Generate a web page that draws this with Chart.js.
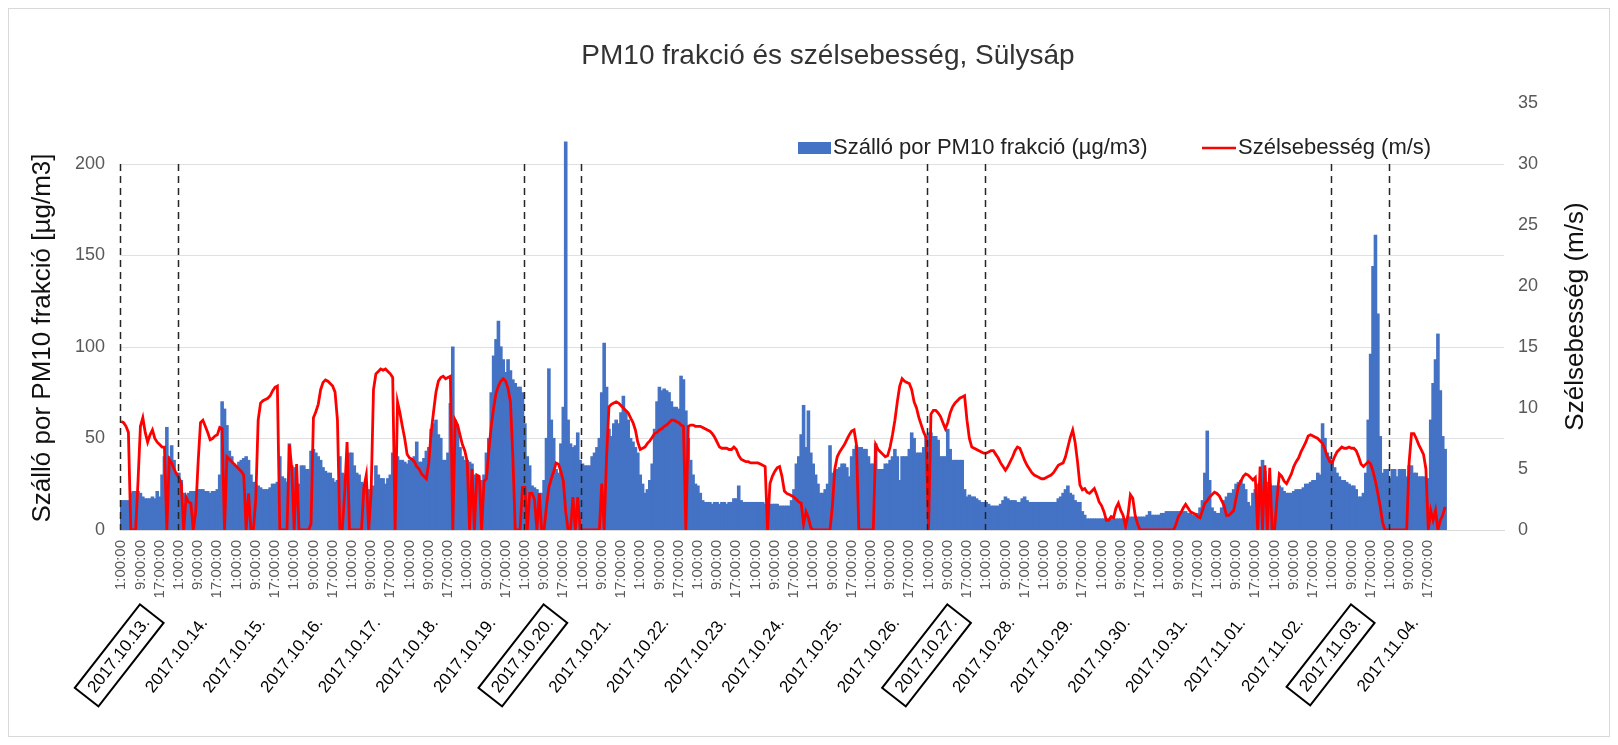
<!DOCTYPE html>
<html>
<head>
<meta charset="utf-8">
<script src="https://cdn.jsdelivr.net/npm/chart.js@4.4.1/dist/chart.umd.min.js"></script>
<style>
  html, body { margin: 0; padding: 0; background: #fff; }
  #wrap { width: 1618px; height: 745px; }
</style>
</head>
<body>
<div id="wrap"><canvas id="pmChart"></canvas></div>
<script>
// days shown on the second row of the category axis
var days = [
    '2017.10.13.', '2017.10.14.', '2017.10.15.', '2017.10.16.', '2017.10.17.', '2017.10.18.',
    '2017.10.19.', '2017.10.20.', '2017.10.21.', '2017.10.22.', '2017.10.23.', '2017.10.24.',
    '2017.10.25.', '2017.10.26.', '2017.10.27.', '2017.10.28.', '2017.10.29.', '2017.10.30.',
    '2017.10.31.', '2017.11.01.', '2017.11.02.', '2017.11.03.', '2017.11.04.'
];
var hours = [
    '1:00:00', '2:00:00', '3:00:00', '4:00:00', '5:00:00', '6:00:00', '7:00:00', '8:00:00',
    '9:00:00', '10:00:00', '11:00:00', '12:00:00', '13:00:00', '14:00:00', '15:00:00', '16:00:00',
    '17:00:00', '18:00:00', '19:00:00', '20:00:00', '21:00:00', '22:00:00', '23:00:00', '0:00:00'
];
var boxedDays = ['2017.10.13.', '2017.10.20.', '2017.10.27.', '2017.11.03.'];
var dividerDays = ['2017.10.13.', '2017.10.14.', '2017.10.20.', '2017.10.21.',
                   '2017.10.27.', '2017.10.28.', '2017.11.03.', '2017.11.04.'];
var emptySlots = 24; // the axis runs on for one more day without data

// hourly PM10 (µg/m3)
var pm10 = [
    16,16,16,16,20,21,21,21, 20,18,17,17,17,18,17,21, 18,30,40,56,40,46,38,31,   // 10.13
    31,27,20,18,20,21,21,21, 22,22,22,21,21,20,21,21, 22,30,70,66,57,43,40,36,   // 10.14
    35,37,38,39,40,38,30,26, 25,24,23,22,22,22,23,25, 25,26,40,29,28,26,47,35,   // 10.15
    34,25,25,35,35,33,33,43, 44,42,40,38,34,32,31,31, 28,26,27,40,31,30,31,42,   // 10.16
    42,35,31,30,26,25,24,22, 22,24,35,30,28,28,25,28, 30,42,44,40,38,38,37,36,   // 10.17
    38,38,40,48,37,37,39,43, 45,55,58,60,52,50,38,38, 42,69,100,60,55,45,40,38,  // 10.18
    38,37,36,30,28,27,27,30, 42,50,75,95,104,114,100,93, 86,93,87,82,80,78,78,75, // 10.19
    58,40,35,24,23,22,20,20, 27,50,88,60,50,33,31,47, 67,212,60,47,45,46,53,38,  // 10.20
    36,35,35,35,40,42,45,50, 75,102,78,55,51,58,60,58, 64,73,65,60,50,48,45,42,  // 10.21
    30,25,20,22,27,36,55,70, 78,76,77,76,75,70,67,67, 66,84,82,65,50,38,30,25,   // 10.22
    24,20,16,15,15,15,14,15, 15,14,15,15,14,15,15,17, 17,24,16,15,15,15,15,15,   // 10.23
    15,15,15,15,14,14,14,14, 14,14,13,13,13,13,13,16, 22,36,40,52,68,45,65,42,   // 10.24
    36,30,25,20,20,22,25,46, 31,32,33,34,36,36,34,29, 40,44,46,45,45,44,44,40,   // 10.25
    36,36,47,33,33,33,36,36, 38,40,44,40,27,40,40,40, 44,53,50,42,42,42,45,51,   // 10.26
    53,53,51,51,49,40,40,40, 55,44,38,38,38,38,38,22, 18,19,18,18,17,16,15,15,   // 10.27
    15,14,13,13,13,13,14,16, 18,17,16,16,16,15,15,17, 18,16,15,15,15,15,15,15,   // 10.28
    15,15,15,15,15,15,17,18, 20,22,24,20,19,16,15,15, 10,8,6,6,6,6,6,6,          // 10.29
    6,6,6,6,6,6,6,6, 6,6,6,7,7,7,7,7, 7,7,7,8,10,8,8,8,                          // 10.30
    8,9,9,10,10,10,10,10, 10,10,10,10,9,9,8,8, 9,12,16,31,54,27,12,10,           // 10.31
    9,9,12,16,18,20,20,22, 25,26,27,25,22,15,13,20, 22,25,26,38,32,26,25,24,     // 11.01
    24,24,24,23,21,20,20,20, 21,22,22,22,23,25,25,26, 27,27,31,30,58,50,42,40,   // 11.02
    38,34,31,29,27,27,26,25, 24,24,22,18,18,20,31,60, 96,144,161,118,51,31,33,33, // 11.03
    28,33,33,29,33,33,33,29, 35,35,31,31,29,29,29,28, 28,60,80,93,107,76,51,44   // 11.04
];

// hourly wind speed (m/s)
var wind = [
    8.9,8.8,8.5,8.0,0,0,0,4, 8.5,9.2,8.0,7.2,7.8,8.2,7.5,7.2, 7.0,6.8,6.8,0,5.8,5.5,5.0,4.6,
    4.3,3.8,0,2.7,2.3,2.2,0,1.5, 5.5,8.8,9.0,8.5,8.0,7.4,7.5,7.7, 7.8,8.4,8.3,0,6.0,5.8,5.6,5.4,
    5.2,5.0,4.8,4.5,0,3.0,0,0, 2.5,9.0,10.4,10.6,10.7,10.8,11.0,11.4, 11.7,11.8,0,0,0,0,7.0,5.0,
    0,5.4,0,0,0,0,0,0.5, 9.2,9.7,10.3,11.5,12.1,12.3,12.2,12.0, 11.8,11.3,9.0,0,0,3.0,7.2,0,
    0,0,0,0,0,3.5,4.5,0, 3.0,11.5,12.8,13.0,13.2,13.1,13.2,13.0, 12.8,12.5,0,10.5,9.6,8.5,7.5,6.2,
    5.9,5.8,5.6,5.2,5.0,4.6,4.4,4.2, 5.5,8.0,9.7,11.3,12.2,12.5,12.6,12.4, 12.5,12.6,0,9.0,8.6,7.8,7.0,6.5,
    5.6,0,5.0,0,4.5,4.4,0,4.0, 4.2,6.5,8.5,10.0,11.2,11.8,12.2,12.4, 12.2,11.6,10.5,6.0,0,0,0,3.5,
    3.5,0,3.0,3.0,2.5,0,3.0,0, 0,2.0,3.5,4.2,4.8,5.5,5.4,4.8, 4.0,1.5,0,0,2.7,0,2.7,0,
    0,0,0,0,0,0,0,0, 3.8,0,6.0,10.1,10.3,10.4,10.5,10.4, 10.2,10.0,9.8,9.6,9.2,8.8,8.2,7.2,
    6.6,6.7,6.8,7.1,7.3,7.6,7.9,8.0, 8.2,8.3,8.5,8.6,8.8,9.0,9.0,8.9, 8.8,8.6,8.5,0,8.5,8.6,8.6,8.5,
    8.5,8.5,8.4,8.3,8.2,8.1,7.9,7.6, 7.2,6.8,6.7,6.7,6.7,6.6,6.6,6.8, 6.6,6.1,5.8,5.7,5.6,5.6,5.5,5.5,
    5.5,5.5,5.4,5.3,5.2,0,3.8,4.4, 4.8,5.1,5.2,4.4,3.2,3.0,2.9,2.8, 2.7,2.5,2.3,2.2,0.5,1.5,1.0,0.2,
    0,0,0,0,0,0,0,0, 2.0,5.0,6.0,6.4,6.7,7.0,7.4,7.8, 8.1,8.2,7.0,0,0,0,0,0,
    0,0,7.0,6.6,6.4,6.2,6.0,6.1, 6.8,7.8,9.0,10.5,11.8,12.4,12.2,12.1, 12.0,11.5,10.5,10.0,9.2,8.6,8.0,7.6,
    0,9.5,9.8,9.8,9.6,9.3,8.8,8.3, 8.8,9.6,10.1,10.4,10.6,10.8,10.9,11.0, 9.0,7.5,6.8,6.7,6.6,6.5,6.4,6.3,
    6.3,6.4,6.5,6.5,6.2,5.9,5.5,5.2, 4.9,5.2,5.6,6.0,6.5,6.8,6.7,6.2, 5.7,5.3,5.0,4.7,4.5,4.4,4.3,4.2,
    4.2,4.3,4.4,4.5,4.7,5.0,5.3,5.4, 5.5,6.0,6.8,7.6,8.2,7.2,5.6,3.7, 3.3,3.4,3.1,3.0,3.2,3.4,2.9,2.3,
    2.0,1.5,0.8,0.8,1.1,1.0,1.8,2.2, 1.6,1.2,0.3,1.2,2.9,2.6,1.2,0.5, 0,0,0,0,0,0,0,0,
    0,0,0,0,0,0,0,0.5, 1.1,1.4,1.8,2.1,1.8,1.5,1.4,1.3, 1.1,1.0,1.6,2.2,2.4,2.7,2.9,3.1,
    3.0,2.8,2.4,2.0,1.2,1.2,1.4,1.6, 2.6,3.6,4.0,4.4,4.6,4.5,4.3,4.1, 4.3,0,5.2,0,5.3,0,5.1,0,
    0,2.5,4.6,4.4,4.0,3.8,4.2,4.6, 5.2,5.6,5.9,6.4,6.8,7.2,7.7,7.8, 7.7,7.6,7.5,7.3,7.1,6.6,6.0,5.6,
    5.5,6.0,6.4,6.6,6.8,6.7,6.7,6.8, 6.7,6.7,6.5,6.0,5.4,5.2,5.4,5.6, 5.4,4.8,4.0,3.0,1.9,0.6,0,0,
    0,0,0,0,0,0,0,0, 5.5,7.9,7.9,7.5,7.0,6.6,6.2,5.0, 0,1.6,0.8,1.6,0,0.8,1.2,1.9
];

var labels = [];
days.forEach(function() { hours.forEach(function(h) { labels.push(h); }); });
for (var k = 0; k < emptySlots; k++) labels.push('');

var FONT = "'Liberation Sans', Arial, sans-serif";
var RIGHT_MAX = 35;
var LEFT_MAX = 200 * RIGHT_MAX / 30; // left 200 lines up with right 30

var decor = {
    id: 'decor',
    beforeDraw: function(chart) {
        var ctx = chart.ctx;
        ctx.save();
        ctx.fillStyle = '#ffffff';
        ctx.fillRect(0, 0, chart.width, chart.height);
        ctx.strokeStyle = '#d9d9d9';
        ctx.lineWidth = 1;
        ctx.strokeRect(8.5, 8.5, chart.width - 17, chart.height - 17);
        ctx.restore();
    },
    afterDatasetsDraw: function(chart) {
        var ctx = chart.ctx, x = chart.scales.x, y = chart.scales.y;
        ctx.save();
        ctx.strokeStyle = '#262626';
        ctx.lineWidth = 1.5;
        ctx.setLineDash([7, 5]);
        dividerDays.forEach(function(d) {
            var px = Math.round(x.getPixelForValue(days.indexOf(d) * 24 - 0.5)) + 0.5;
            ctx.beginPath();
            ctx.moveTo(px, y.getPixelForValue(200));
            ctx.lineTo(px, chart.chartArea.bottom);
            ctx.stroke();
        });
        ctx.restore();
    },
    afterDraw: function(chart) {
        var ctx = chart.ctx, x = chart.scales.x, area = chart.chartArea;
        ctx.save();

        // title
        ctx.fillStyle = '#333333';
        ctx.font = '28px ' + FONT;
        ctx.textAlign = 'center';
        ctx.textBaseline = 'alphabetic';
        ctx.fillText('PM10 frakció és szélsebesség, Sülysáp', 828, 64);

        // axis titles
        ctx.fillStyle = '#111111';
        ctx.font = '26px ' + FONT;
        ctx.textBaseline = 'middle';
        ctx.save();
        ctx.translate(43, 338);
        ctx.rotate(-Math.PI / 2);
        ctx.fillText('Szálló por PM10 frakció [µg/m3]', 0, 0);
        ctx.restore();
        ctx.save();
        ctx.translate(1576, (area.top + area.bottom) / 2);
        ctx.rotate(-Math.PI / 2);
        ctx.fillText('Szélsebesség (m/s)', 0, 0);
        ctx.restore();

        // legend
        ctx.font = '22px ' + FONT;
        ctx.textAlign = 'left';
        ctx.fillStyle = '#4472C4';
        ctx.fillRect(798, 142, 33, 12);
        ctx.fillStyle = '#222222';
        ctx.fillText('Szálló por PM10 frakció (µg/m3)', 833, 148);
        ctx.strokeStyle = '#FF0000';
        ctx.lineWidth = 2.5;
        ctx.beginPath();
        ctx.moveTo(1202, 148);
        ctx.lineTo(1236, 148);
        ctx.stroke();
        ctx.fillText('Szélsebesség (m/s)', 1238, 148);

        // date row under the hour labels
        ctx.font = '17px ' + FONT;
        ctx.textAlign = 'right';
        ctx.fillStyle = '#000000';
        ctx.strokeStyle = '#000000';
        ctx.lineWidth = 2;
        var ang = -52 * Math.PI / 180;
        days.forEach(function(d, i) {
            var cx = x.getPixelForValue(i * 24 + 11.5);
            ctx.save();
            ctx.translate(cx - 2, area.bottom + 90);
            ctx.rotate(ang);
            ctx.fillText(d, 0, 0);
            if (boxedDays.indexOf(d) >= 0) {
                var w = ctx.measureText(d).width;
                ctx.strokeRect(-w - 8, -15, w + 16, 30);
            }
            ctx.restore();
        });
        ctx.restore();
    }
};

var config = {
    type: 'bar',
    data: {
        labels: labels,
        datasets: [{
            type: 'line',
            label: 'Szélsebesség (m/s)',
            data: wind,
            yAxisID: 'y1',
            borderColor: '#FF0000',
            borderWidth: 2.8,
            pointRadius: 0,
            tension: 0,
            order: 0
        }, {
            type: 'bar',
            label: 'Szálló por PM10 frakció (µg/m3)',
            data: pm10,
            yAxisID: 'y',
            backgroundColor: '#4472C4',
            borderWidth: 0,
            inflateAmount: 0.6,
            barPercentage: 1.0,
            categoryPercentage: 1.0,
            order: 1
        }]
    },
    options: {
        responsive: true,
        maintainAspectRatio: false,
        animation: false,
        layout: { padding: { top: 103, left: 0, right: 0, bottom: 0 } },
        plugins: {
            legend: { display: false },
            title: { display: false },
            tooltip: { enabled: false }
        },
        scales: {
            x: {
                grid: { display: false, drawTicks: false },
                border: { display: true, color: '#d9d9d9' },
                ticks: {
                    autoSkip: false,
                    minRotation: 90,
                    maxRotation: 90,
                    padding: 10,
                    color: '#595959',
                    font: { family: FONT, size: 15 },
                    callback: function(val, i) {
                        return i % 8 === 0 ? this.getLabelForValue(val) : '';
                    }
                },
                afterFit: function(scale) { scale.height = 215; }
            },
            y: {
                position: 'left',
                min: 0,
                max: LEFT_MAX,
                grid: { color: '#e0e0e0', drawTicks: false },
                border: { display: false },
                ticks: {
                    stepSize: 50,
                    padding: 15,
                    color: '#595959',
                    font: { family: FONT, size: 18 }
                },
                afterBuildTicks: function(scale) {
                    scale.ticks = scale.ticks.filter(function(t) { return t.value <= 200; });
                },
                afterFit: function(scale) { scale.width = 120; }
            },
            y1: {
                position: 'right',
                min: 0,
                max: RIGHT_MAX,
                grid: { display: false, drawTicks: false },
                border: { display: false },
                ticks: {
                    stepSize: 5,
                    padding: 14,
                    color: '#595959',
                    font: { family: FONT, size: 18 }
                },
                afterFit: function(scale) { scale.width = 114; }
            }
        }
    },
    plugins: [decor]
};

window.onload = function() {
    var ctx = document.getElementById('pmChart').getContext('2d');
    window.pmChart = new Chart(ctx, config);
};
</script>
</body>
</html>
